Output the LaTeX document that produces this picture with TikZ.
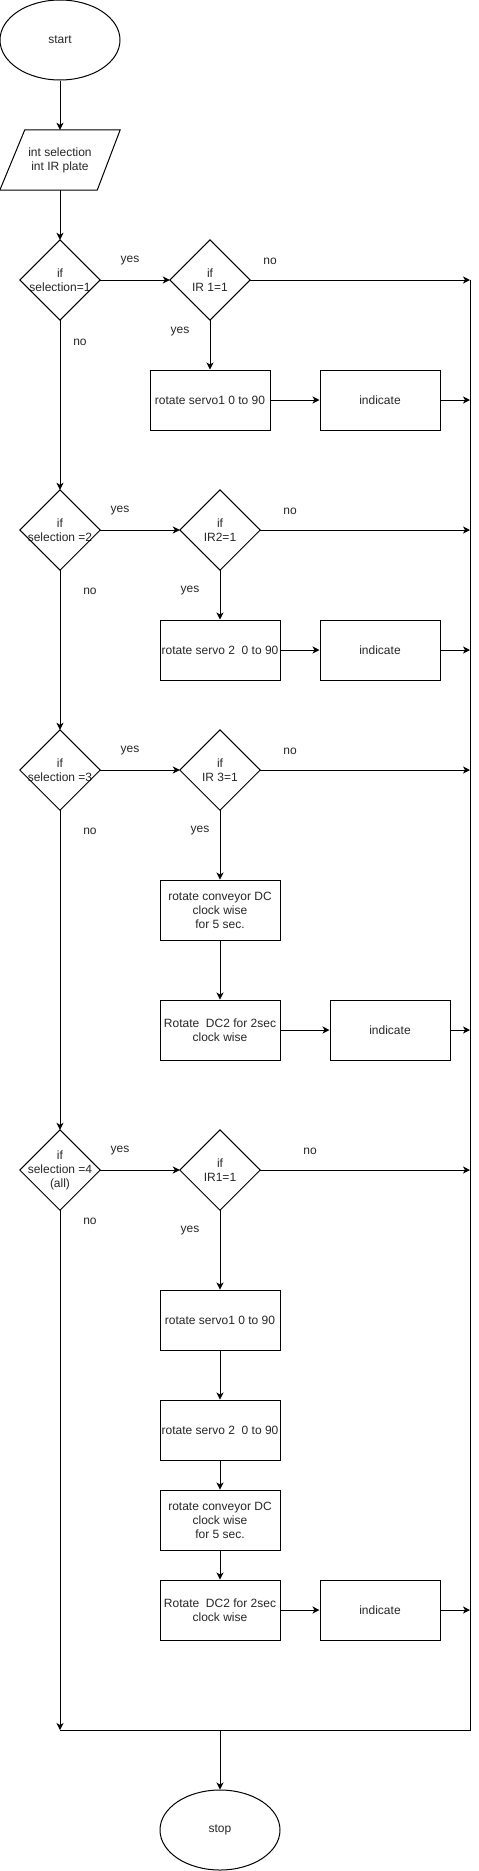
\documentclass[tikz,border=0pt]{standalone}
\usepackage{fontspec}
\setmainfont{Liberation Sans}
\usetikzlibrary{shapes.geometric,arrows.meta,calc}
\begin{document}
\begin{tikzpicture}[x=1pt,y=-1pt,
  every node/.style={font=\fontsize{12pt}{14pt}\selectfont, text=black!85},
  line/.style={draw=black, line width=1pt},
  arr/.style={line, -{Stealth[length=7pt,width=7pt,inset=2pt]}},
  terminal/.style={ellipse, draw=black, line width=1pt, minimum width=120pt, minimum height=80pt, inner sep=0pt},
  procbox/.style={rectangle, draw=black, line width=1pt, minimum width=120pt, minimum height=60pt, inner sep=0pt, align=center},
  decision/.style={rectangle, minimum width=80pt, minimum height=80pt, inner sep=0pt, align=center},
  lbl/.style={inner sep=0pt}
]
\useasboundingbox (0,0) rectangle (479,1871);

% nodes
\node[terminal] (start) at (60,40) {start};
\node[rectangle, minimum width=120pt, minimum height=60pt, inner sep=0pt, align=center] (io) at (60,160) {int selection\\int IR plate};
\draw[line] ($(io.north west)+(25,0)$) -- (io.north east) -- ($(io.south east)+(-23,0)$) -- (io.south west) -- cycle;

\node[decision] (d1) at (60,280) {if\\selection=1};
\node[decision] (d2) at (210,280) {if\\IR 1=1};
\node[procbox] (b1) at (210,400) {rotate servo1 0 to 90};
\node[procbox] (i1) at (380,400) {indicate};

\node[decision] (d3) at (60,530) {if\\selection =2};
\node[decision] (d4) at (220,530) {if\\IR2=1};
\node[procbox] (b2) at (220,650) {rotate servo 2~ 0 to 90};
\node[procbox] (i2) at (380,650) {indicate};

\node[decision] (d5) at (60,770) {if\\selection =3};
\node[decision] (d6) at (220,770) {if\\IR 3=1};
\node[procbox] (b3) at (220,910) {rotate conveyor DC\\clock wise\\for 5 sec.};
\node[procbox] (b4) at (220,1030) {Rotate~ DC2 for 2sec\\clock wise};
\node[procbox] (i3) at (390,1030) {indicate};

\node[decision] (d7) at (60,1170) {if\\selection =4\\(all)};
\node[decision] (d8) at (220,1170) {if\\IR1=1};
\node[procbox] (b5) at (220,1320) {rotate servo1 0 to 90};
\node[procbox] (b6) at (220,1430) {rotate servo 2~ 0 to 90};
\node[procbox] (b7) at (220,1520) {rotate conveyor DC\\clock wise\\for 5 sec.};
\node[procbox] (b8) at (220,1610) {Rotate~ DC2 for 2sec\\clock wise};
\node[procbox] (i4) at (380,1610) {indicate};

\node[terminal] (stop) at (220,1830) {stop};

\foreach \n in {d1,d2,d3,d4,d5,d6,d7,d8}
  \draw[line] (\n.north) -- (\n.east) -- (\n.south) -- (\n.west) -- cycle;

% right bus coordinates
\coordinate (r1) at (470,280);
\coordinate (r2) at (470,400);
\coordinate (r3) at (470,530);
\coordinate (r4) at (470,650);
\coordinate (r5) at (470,770);
\coordinate (r6) at (470,1030);
\coordinate (r7) at (470,1170);
\coordinate (r8) at (470,1610);
\coordinate (rb) at (470,1730);
\coordinate (lb) at (60,1730);
\coordinate (mb) at (220,1730);

% connectors
\draw[arr] (start) -- (io);
\draw[arr] (io) -- (d1);
\draw[arr] (d1.east) -- (d2.west);
\draw[arr] (d2.east) -- (r1);
\draw[arr] (d2.south) -- (b1);
\draw[arr] (b1) -- (i1);
\draw[arr] (i1.east) -- (r2);
\draw[arr] (d1.south) -- (d3.north);

\draw[arr] (d3.east) -- (d4.west);
\draw[arr] (d4.east) -- (r3);
\draw[arr] (d4.south) -- (b2);
\draw[arr] (b2) -- (i2);
\draw[arr] (i2.east) -- (r4);
\draw[arr] (d3.south) -- (d5.north);

\draw[arr] (d5.east) -- (d6.west);
\draw[arr] (d6.east) -- (r5);
\draw[arr] (d6.south) -- (b3);
\draw[arr] (b3) -- (b4);
\draw[arr] (b4) -- (i3);
\draw[arr] (i3.east) -- (r6);
\draw[arr] (d5.south) -- (d7.north);

\draw[arr] (d7.east) -- (d8.west);
\draw[arr] (d8.east) -- (r7);
\draw[arr] (d8.south) -- (b5);
\draw[arr] (b5) -- (b6);
\draw[arr] (b6) -- (b7);
\draw[arr] (b7) -- (b8);
\draw[arr] (b8) -- (i4);
\draw[arr] (i4.east) -- (r8);
\draw[arr] (d7.south) -- (lb);

\draw[line] (r1) -- (rb) -- (lb);
\draw[arr] (mb) -- (stop);

% labels
\node[lbl] (l1) at (130,261) {yes};
\node[lbl] (l2) at (270,261) {no};
\node[lbl] (l3) at (80,342) {no};
\node[lbl] (l4) at (180,332) {yes};

\node[lbl] (l5) at (120,511) {yes};
\node[lbl] (l6) at (290,511) {no};
\node[lbl] (l7) at (90,591) {no};
\node[lbl] (l8) at (190,591) {yes};

\node[lbl] (l9) at (130,751) {yes};
\node[lbl] (l10) at (290,751) {no};
\node[lbl] (l11) at (90,831) {no};
\node[lbl] (l12) at (200,831) {yes};

\node[lbl] (l13) at (120,1151) {yes};
\node[lbl] (l14) at (310,1151) {no};
\node[lbl] (l15) at (90,1221) {no};
\node[lbl] (l16) at (190,1231) {yes};
\end{tikzpicture}
\end{document}
